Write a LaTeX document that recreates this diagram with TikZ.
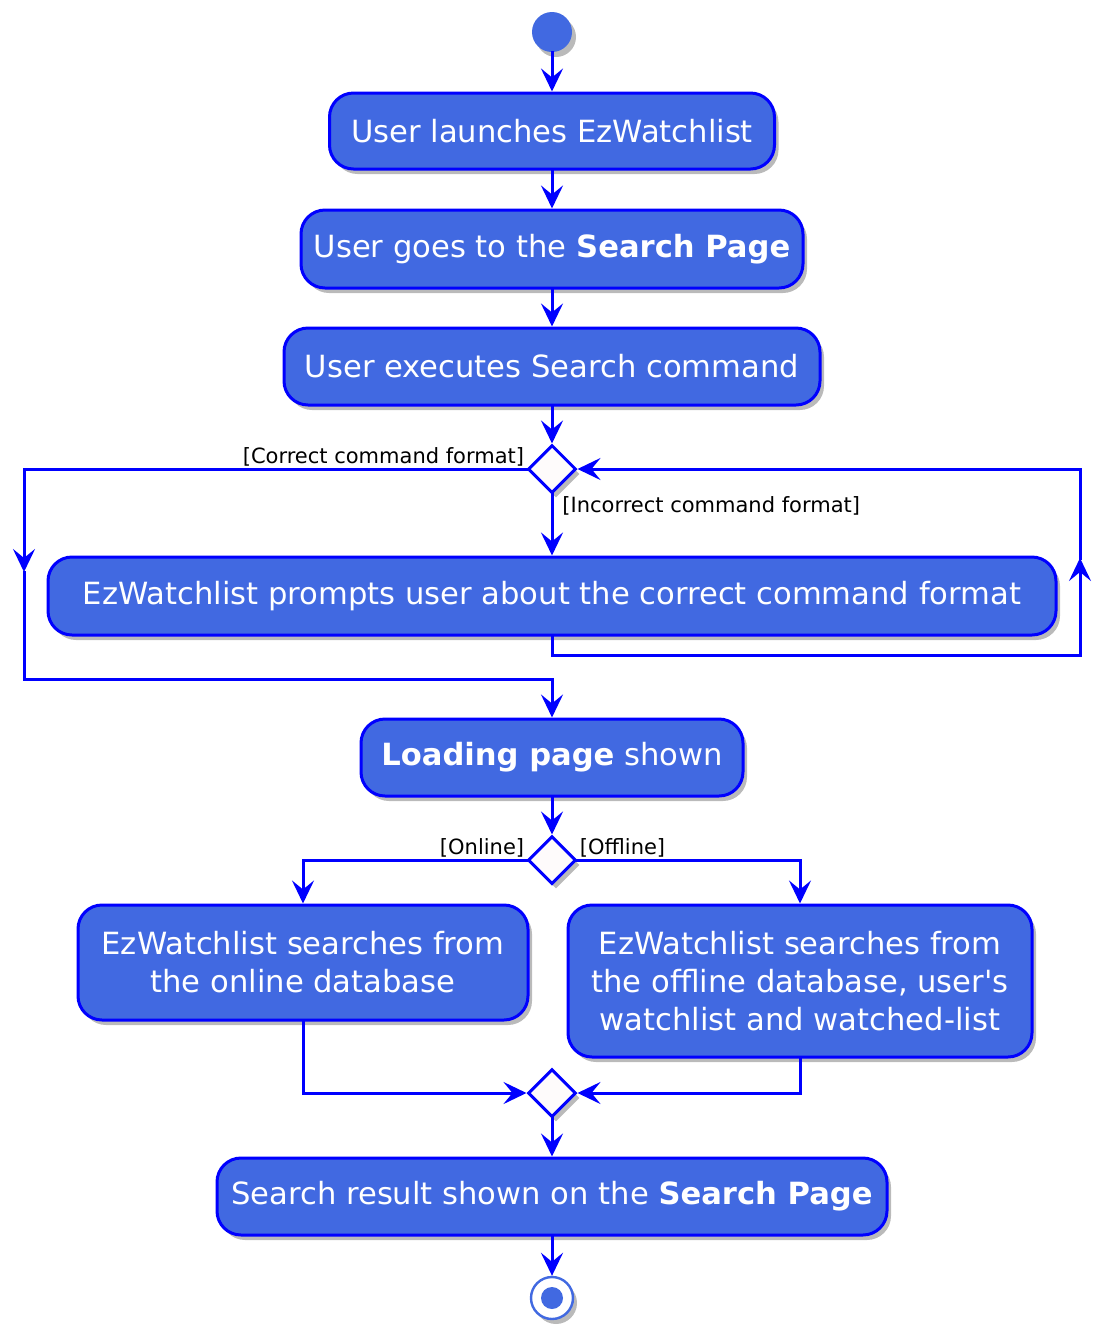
\documentclass[tikz,border=0pt]{standalone}
\usepackage{fontspec}
\setmainfont{DejaVu Sans}
\usetikzlibrary{shapes.geometric,arrows.meta,shadows}
\definecolor{actfill}{HTML}{4169E1}
\definecolor{actline}{HTML}{0000FF}
\definecolor{decfill}{HTML}{FEFBFB}

\begin{document}
\begin{tikzpicture}[x=0.5pt,y=-0.5pt,
    act/.style={rectangle, rounded corners=12pt, draw=actline, line width=1.5pt,
      fill=actfill, text=white, align=center, inner sep=0pt,
      font=\fontsize{15.3}{19}\selectfont,
      drop shadow={shadow xshift=2pt, shadow yshift=-2.5pt, opacity=0.45, fill=black!60}},
    dec/.style={diamond, draw=actline, line width=1.5pt, fill=decfill,
      minimum width=24pt, minimum height=24pt, inner sep=0pt,
      drop shadow={shadow xshift=2pt, shadow yshift=-2.5pt, opacity=0.45, fill=black!60}},
    guard/.style={font=\fontsize{10.5}{12}\selectfont, inner sep=1pt},
    link/.style={actline, line width=1.5pt, line cap=rect},
    flow/.style={link, -{Stealth[length=11.5pt,width=11pt,inset=4.5pt,fill=actline]}}]

\useasboundingbox (0,0) rectangle (1106,1340);

% Start and actions
\node[circle, fill=actfill, minimum size=20pt, inner sep=0pt,
  drop shadow={shadow xshift=2pt, shadow yshift=-2.5pt, opacity=0.45, fill=black!60}] (start) at (552,32) {};
\node[act, minimum width=222.5pt, minimum height=38pt] (launch) at (552,131) {User launches EzWatchlist};
\node[act, minimum width=251pt, minimum height=39pt] (gopage) at (552,249) {User goes to the \textbf{Search Page}};
\node[act, minimum width=268pt, minimum height=38.5pt] (exec) at (552,366.5) {User executes Search command};

% Format check
\node[dec] (check) at (552,469) {};
\node[guard, anchor=south east] (okguard) at (check.west) {[Correct command format]};
\node[guard, anchor=north west] (badguard) at ([xshift=4pt]check.south) {[Incorrect command format]};
\node[act, minimum width=504pt, minimum height=39pt] (prompt) at (552,596) {EzWatchlist prompts user about the correct command format};

\node[act, minimum width=191pt, minimum height=38.5pt] (loading) at (552,757.5) {\textbf{Loading page} shown};

% Online / offline
\node[dec] (mode) at (552,860) {};
\node[guard, anchor=south east] (onguard) at (mode.west) {[Online]};
\node[guard, anchor=south west] (offguard) at (mode.east) {[Offline]};
\node[act, minimum width=225pt, minimum height=57.5pt] (online) at (303,962.5) {EzWatchlist searches from\\the online database};
\node[act, minimum width=232pt, minimum height=76pt] (offline) at (800,981) {EzWatchlist searches from\\the offline database, user\textquotesingle s\\watchlist and watched-list};
\node[dec] (merge) at (552,1093) {};

\node[act, minimum width=335pt, minimum height=38.5pt] (result) at (552,1196.5) {Search result shown on the \textbf{Search Page}};

% End
\node[circle, draw=actfill, line width=1.2pt, fill=white, minimum size=21pt, inner sep=0pt,
  drop shadow={shadow xshift=2pt, shadow yshift=-2.5pt, opacity=0.45, fill=black!60}] (stop) at (552,1298) {};
\node[circle, fill=actfill, minimum size=11pt, inner sep=0pt] (stopdot) at (stop) {};

% Corner points
\coordinate (cl1) at (24,469);
\coordinate (cm1) at (24,572);
\coordinate (cl2) at (24,679);
\coordinate (cl3) at (552,679);
\coordinate (rl1) at (552,655);
\coordinate (rl2) at (1080,655);
\coordinate (rm1) at (1080,558);
\coordinate (rl3) at (1080,469);

% Flows
\draw[flow] (start) -- (launch);
\draw[flow] (launch) -- (gopage);
\draw[flow] (gopage) -- (exec);
\draw[flow] (exec) -- (check);
\draw[flow] (check.south) -- (prompt);

% correct format: around the prompt
\draw[link] (check.west) -- (cl1);
\draw[flow] (cl1) -- (cm1);
\draw[link] (cm1) -- (cl2) -- (cl3);
\draw[flow] (cl3) -- (loading);

% incorrect format: back to the check
\draw[link] (prompt.south) -- (rl1) -- (rl2);
\draw[flow] (rl2) -- (rm1);
\draw[link] (rm1) -- (rl3);
\draw[flow] (rl3) -- (check.east);

\draw[flow] (loading) -- (mode);
\draw[flow] (mode.west) -| (online.north);
\draw[flow] (mode.east) -| (offline.north);
\draw[flow] (online.south) |- (merge.west);
\draw[flow] (offline.south) |- (merge.east);
\draw[flow] (merge) -- (result);
\draw[flow] (result) -- (stop);

\end{tikzpicture}
\end{document}
